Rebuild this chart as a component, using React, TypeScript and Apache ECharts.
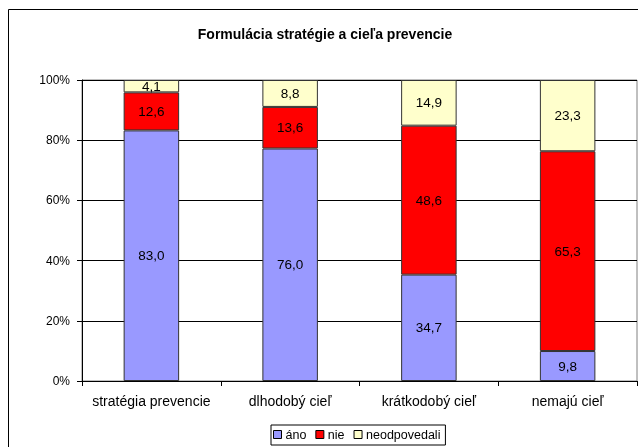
import React, { useEffect, useRef } from "react";
import * as echarts from "echarts";

const categories = ["stratégia prevencie", "dlhodobý cieľ", "krátkodobý cieľ", "nemajú cieľ"];
const seriesNames = ["áno", "nie", "neodpovedali"];
const ano = [83.0, 76.0, 34.7, 9.8];
const nie = [12.6, 13.6, 48.6, 65.3];
const neodpovedali = [4.1, 8.8, 14.9, 23.3];
const yTicks = [0, 20, 40, 60, 80, 100];
const colors = ["#9999FF", "#FF0000", "#FFFFCC"];

export default function App() {
  const ref = useRef<HTMLDivElement>(null);
  useEffect(() => {
    if (!ref.current) return;
    const chart = echarts.init(ref.current, undefined, { renderer: "svg" });
    const raw = [ano, nie, neodpovedali];
    const totals = categories.map((_, i) => raw.reduce((s, arr) => s + arr[i], 0));
    const font = "Liberation Sans, Arial, sans-serif";
    chart.setOption({
      animation: false,
      textStyle: { fontFamily: font },
      title: {
        text: "Formulácia stratégie a cieľa prevencie",
        left: 320,
        textAlign: "center",
        top: 22,
        textStyle: { fontFamily: font, fontSize: 14, fontWeight: "bold", color: "#000" },
      },
      graphic: [
        {
          type: "rect",
          shape: { x: 8.5, y: 9.5, width: 640, height: 450 },
          style: { fill: "none", stroke: "#000", lineWidth: 1 },
          silent: true,
        },
      ],
      legend: {
        left: 271,
        top: 425,
        icon: "rect",
        itemWidth: 8,
        itemHeight: 8,
        itemGap: 9,
        padding: [3, 5, 4, 2],
        borderColor: "#000",
        borderWidth: 1,
        textStyle: { fontFamily: font, fontSize: 12.5, color: "#000", padding: [0, 0, 0, -1] },
        data: seriesNames,
        itemStyle: { borderColor: "#000", borderWidth: 1 },
      },
      grid: { left: 82, right: 1, top: 80, bottom: 66, show: true, borderColor: "#808080", borderWidth: 1 },
      xAxis: {
        type: "category",
        data: categories,
        axisLine: { lineStyle: { color: "#000", width: 1 } },
        axisTick: { show: true, alignWithLabel: false, length: 5, lineStyle: { color: "#000" } },
        axisLabel: { interval: 0, hideOverlap: false, fontFamily: font, fontSize: 14, color: "#000", margin: 13 },
      },
      yAxis: {
        type: "value",
        min: yTicks[0],
        max: yTicks[yTicks.length - 1],
        interval: 20,
        axisLine: { show: true, lineStyle: { color: "#000", width: 1 } },
        axisTick: { show: true, length: 5, lineStyle: { color: "#000" } },
        splitLine: { lineStyle: { color: "#000", width: 1 } },
        axisLabel: { fontFamily: font, fontSize: 12, color: "#000", margin: 12, formatter: "{value}%" },
      },
      series: raw.map((arr, si) => ({
        name: seriesNames[si],
        type: "bar",
        stack: "total",
        barWidth: "40%",
        data: arr.map((v, i) => ({ value: (v / totals[i]) * 100 })),
        itemStyle: { color: colors[si], borderColor: "#333", borderWidth: 1 },
        label: {
          show: true,
          position: "inside",
          color: "#000",
          fontFamily: font,
          fontSize: 13.5,
          formatter: (p: any) => arr[p.dataIndex].toFixed(1).replace(".", ","),
        },
      })),
    });
    return () => chart.dispose();
  }, []);
  return <div ref={ref} style={{ position: "fixed", left: 0, top: 0, width: 638, height: 447 }} />;
}
